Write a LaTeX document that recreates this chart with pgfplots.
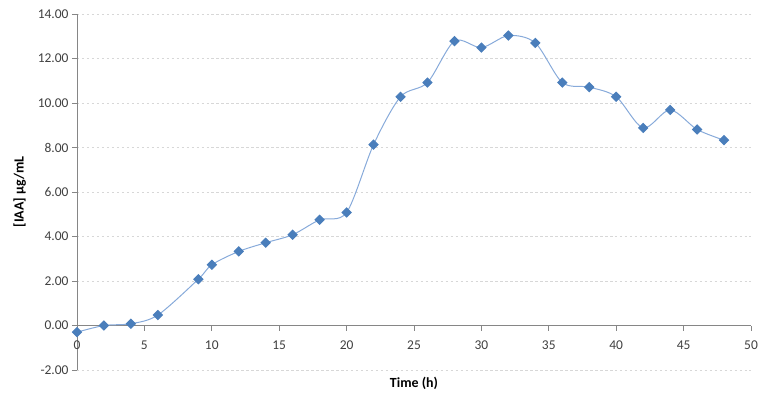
\documentclass[border=0pt]{standalone}
\usepackage{fontspec}
\setmainfont{Carlito}
\usepackage{pgfplots}
\pgfplotsset{compat=1.18}

\definecolor{markblue}{RGB}{74,126,187}
\definecolor{lineblue}{RGB}{135,170,218}
\definecolor{axisgray}{RGB}{134,134,134}
\definecolor{gridgray}{RGB}{215,215,215}
\definecolor{ticktext}{RGB}{64,64,64}

\begin{document}
\begin{tikzpicture}
\begin{axis}[
    name=ax,
    scale only axis,
    width=674bp, height=356bp,
    xmin=0, xmax=50,
    ymin=-2, ymax=14,
    axis x line=middle,
    axis y line=left,
    hide obscured x ticks=false,
    axis line style={-, draw=axisgray, line width=0.8pt},
    xtick={0,5,...,50},
    ytick={-2,0,...,14},
    tick align=outside,
    major tick length=5bp,
    tick style={draw=axisgray, line width=0.8pt},
    ymajorgrids,
    grid style={draw=gridgray, dash pattern=on 2.5pt off 2.5pt, line width=0.6pt},
    yticklabel style={/pgf/number format/fixed, /pgf/number format/fixed zerofill,
        /pgf/number format/precision=2, font=\fontsize{13.5}{13.5}\selectfont, text=ticktext},
    xticklabel style={font=\fontsize{13.5}{13.5}\selectfont, text=ticktext, yshift=-7bp},
    /pgf/number format/assume math mode=true,
    xlabel={\textbf{Time (h)}},
    ylabel={\textbf{[IAA] µg/mL}},
    xlabel style={at={(axis description cs:0.5,0)}, anchor=center, yshift=-13bp,
        font=\fontsize{14}{14}\selectfont},
    ylabel style={at={(axis description cs:-0.085,0.5)}, anchor=center,
        font=\fontsize{14}{14}\selectfont},
    clip=false,
]
\addplot[color=lineblue, line width=1pt, smooth, tension=0.5,
    mark=square*, mark size=3.2bp,
    mark options={rotate=45, fill=markblue, draw=markblue, solid}]
coordinates {
(0,-0.30) (2,0.00) (4,0.08) (6,0.47) (9,2.08) (10,2.73) (12,3.33) (14,3.72)
(16,4.08) (18,4.75) (20,5.08) (22,8.13) (24,10.28) (26,10.92) (28,12.78)
(30,12.49) (32,13.03) (34,12.70) (36,10.92) (38,10.71) (40,10.28) (42,8.88)
(44,9.69) (46,8.81) (48,8.33)
};
\end{axis}
\path ([xshift=-77bp,yshift=-31bp]ax.south west) rectangle ([xshift=15bp,yshift=14bp]ax.north east);
\end{tikzpicture}
\end{document}
